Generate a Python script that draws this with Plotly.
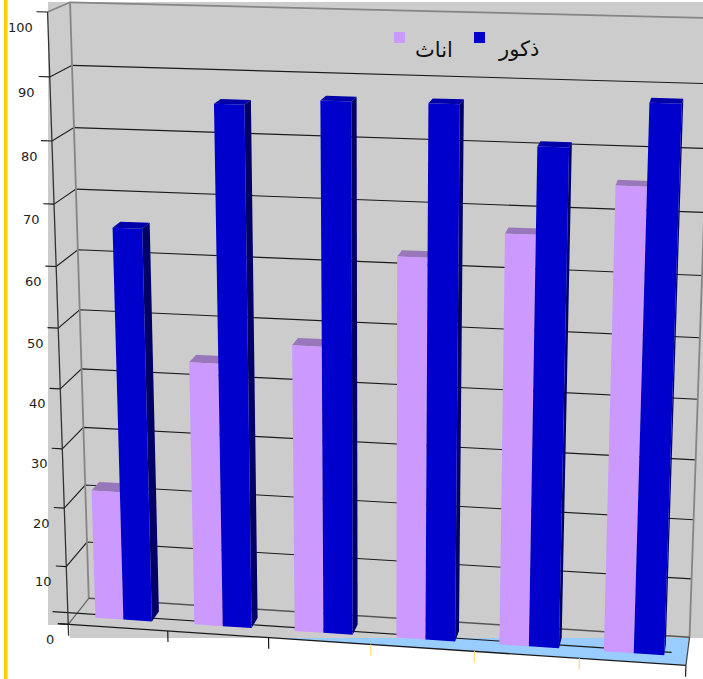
import numpy as np
import plotly.graph_objects as go

# Series values, one per category slot
female = [22, 44.4, 48, 63, 67.3, 75.4]
male = [65.8, 86, 87, 87.1, 81, 88.2]
series_names = ["اناث", "ذكور"]
value_ticks = [0, 10, 20, 30, 40, 50, 60, 70, 80, 90, 100]

# Solid colours
GREY = "#CCCCCC"
FLOOR = "#99CCFF"
PURPLE_FRONT = "#CC99FF"
PURPLE_TOP = "#9977BB"
BLUE_FRONT = "#0000CC"
BLUE_TOP = "#0000AA"
BLUE_SIDE = "#000066"
INK = "#1A1A1A"
WALL_EDGE = "#858585"
ACCENT = "#FFCC00"
ACCENT_TICK = "#FFDD66"

# Oblique view of the chart box: category position, value, depth -> page position
VIEW_ANCHORS = [
    (0, 0, 0, 68, 624), (0, 100, 0, 47, 12), (0, 0, 1, 88, 598), (0, 100, 1, 70, 3),
    (6, 0, 1, 690, 637), (6, 100, 1, 711, 18), (6, 0, 0, 686, 665.5),
    (0, 10, 0, 66, 567), (0, 20, 0, 65, 508), (0, 70, 0, 54, 204), (0, 80, 0, 52, 141),
    (0, 90, 0, 50, 77), (0, 10, 1, 87, 542), (0, 20, 1, 86, 486), (0, 70, 1, 76, 189),
    (0, 80, 1, 74, 127), (0, 90, 1, 72, 65), (6, 10, 1, 691, 579),
]


def solve_view(anchors):
    rows, rhs = [], []
    for u, v, w, px, py in anchors:
        s = v / 100
        rows.append([u, s, w, 1, 0, 0, 0, 0, -px * u, -px * s, -px * w])
        rows.append([0, 0, 0, 0, u, s, w, 1, -py * u, -py * s, -py * w])
        rhs += [px, py]
    sol = np.linalg.lstsq(np.array(rows, float), np.array(rhs, float), rcond=None)[0]
    return np.append(sol, 1).reshape(3, 4)


VIEW = solve_view(VIEW_ANCHORS)


def project(u, v, w):
    h = VIEW @ np.array([u, v / 100, w, 1.0])
    return h[0] / h[2], h[1] / h[2]


fig = go.Figure()


def add_shape_trace(points, fill=None, line=None, width=1.0):
    pts = [project(*p) for p in points]
    xs = [p[0] for p in pts]
    ys = [p[1] for p in pts]
    if fill:
        fig.add_trace(go.Scatter(x=xs + xs[:1], y=ys + ys[:1], mode="lines", fill="toself",
                                 fillcolor=fill, line=dict(width=0, color=fill),
                                 hoverinfo="skip", showlegend=False))
    else:
        fig.add_trace(go.Scatter(x=xs, y=ys, mode="lines", line=dict(color=line, width=width),
                                 hoverinfo="skip", showlegend=False))


# Floor sits under the backdrop, only its front strip shows
add_shape_trace([(0, 0, 0), (6, 0, 0), (6, 0, 1), (0, 0, 1)], fill=FLOOR)

# Backdrop panel with the stepped lower edge
fig.add_trace(go.Scatter(x=[48, 703, 703, 70, 70, 48, 48], y=[2, 2, 638, 638, 625, 625, 2],
                         mode="lines", fill="toself", fillcolor=GREY, line=dict(width=0, color=GREY),
                         hoverinfo="skip", showlegend=False))

# Walls and gridlines
for v in value_ticks[1:-1]:
    add_shape_trace([(0, v, 0), (0, v, 1), (6, v, 1)], line=INK, width=1.1)
add_shape_trace([(0, 100, 0), (0, 100, 1), (6, 100, 1)], line=WALL_EDGE, width=1.8)
add_shape_trace([(0, 0, 1), (0, 100, 1)], line=WALL_EDGE, width=1.8)
add_shape_trace([(6, 0, 1), (6, 100, 1)], line=WALL_EDGE, width=1.8)
add_shape_trace([(0, 0, 1), (6, 0, 1)], line="#555555", width=1.5)
add_shape_trace([(0, 0, 0), (0, 0, 1)], line="#666666", width=1.2)
add_shape_trace([(-0.25, 0, 0.42), (5.85, 0, 0.42)], line=INK, width=1.1)
add_shape_trace([(6, 0, 0), (6, 0, 1)], line="#444444", width=1.2)

# Value axis with outward ticks
add_shape_trace([(0, -2, 0), (0, 100, 0)], line="#333333", width=1.3)
annotations = []
for v in value_ticks:
    add_shape_trace([(-0.105, v, 0), (0, v, 0)], line=INK, width=1.1)
    lx, ly = project(-0.105, v, 0)
    annotations.append(dict(x=lx - 1.5, y=ly + 15.5, xref="x", yref="y", text=str(v), showarrow=False,
                            xanchor="right", yanchor="middle",
                            font=dict(family="DejaVu Sans", size=13, color="#222222")))

# Category axis with outward ticks
add_shape_trace([(-0.105, 0, 0), (6, 0, 0)], line=INK, width=1.3)
for slot in range(1, 7):
    colour = ACCENT_TICK if slot in (3, 4, 5) else INK
    add_shape_trace([(slot, 0, 0), (slot, -1.9, 0)], line=colour, width=1.2)

# Bars: depth span and the slot fractions of the two side-by-side columns
BAR_NEAR, BAR_FAR = 0.30, 0.68
EDGE_LEFT, EDGE_MID, EDGE_RIGHT = 0.213, 0.497, 0.785

for slot, (f_val, m_val) in enumerate(zip(female, male)):
    a, b, c = slot + EDGE_LEFT, slot + EDGE_MID, slot + EDGE_RIGHT
    add_shape_trace([(a, f_val, BAR_NEAR), (b, f_val, BAR_NEAR), (b, f_val, BAR_FAR), (a, f_val, BAR_FAR)],
                    fill=PURPLE_TOP)
    add_shape_trace([(a, 0, BAR_NEAR), (b, 0, BAR_NEAR), (b, f_val, BAR_NEAR), (a, f_val, BAR_NEAR)],
                    fill=PURPLE_FRONT)
    add_shape_trace([(c, 0, BAR_NEAR), (c, 0, BAR_FAR), (c, m_val, BAR_FAR), (c, m_val, BAR_NEAR)],
                    fill=BLUE_SIDE)
    add_shape_trace([(b, m_val, BAR_NEAR), (c, m_val, BAR_NEAR), (c, m_val, BAR_FAR), (b, m_val, BAR_FAR)],
                    fill=BLUE_TOP)
    add_shape_trace([(b, 0, BAR_NEAR), (c, 0, BAR_NEAR), (c, m_val, BAR_NEAR), (b, m_val, BAR_NEAR)],
                    fill=BLUE_FRONT)

# Legend keys and labels
fig.add_trace(go.Scatter(x=[399.5, 479.5], y=[37.5, 37.5], mode="markers",
                         marker=dict(symbol="square", size=11, color=[PURPLE_FRONT, BLUE_FRONT]),
                         hoverinfo="skip", showlegend=False))
for name, cx in zip(series_names, (434, 518)):
    annotations.append(dict(x=cx, y=49, xref="x", yref="y", text=name, showarrow=False,
                            font=dict(family="Liberation Sans, DejaVu Sans", size=21, color="#111111")))

# Accent strip down the left edge of the page
fig.add_trace(go.Scatter(x=[4, 7.6, 7.6, 4, 4], y=[0, 0, 679, 679, 0], mode="lines", fill="toself",
                         fillcolor=ACCENT, line=dict(width=0, color=ACCENT),
                         hoverinfo="skip", showlegend=False))

fig.update_layout(
    width=703, height=679, margin=dict(l=0, r=0, t=0, b=0),
    paper_bgcolor="white", plot_bgcolor="white", showlegend=False,
    xaxis=dict(range=[0, 703], visible=False, fixedrange=True),
    yaxis=dict(range=[679, 0], visible=False, fixedrange=True),
    annotations=annotations,
)
fig.write_html("out.html", config={"displayModeBar": False})
